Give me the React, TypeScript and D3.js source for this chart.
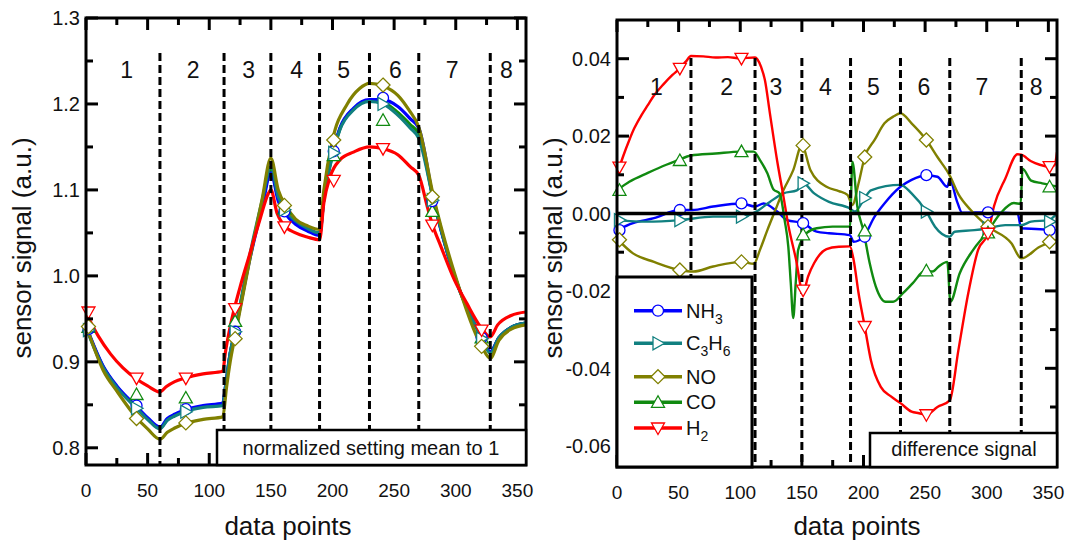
import React from 'react';
import * as d3 from 'd3';

type Pt = [number, number];

// ---------- axes / ticks ----------
const X_TICKS_MAJOR = [0, 50, 100, 150, 200, 250, 300, 350];
const X_TICKS_MINOR = [25, 75, 125, 175, 225, 275, 325];
const NORM_TICKS_MAJOR = [0.8, 0.9, 1.0, 1.1, 1.2, 1.3];
const NORM_TICKS_MINOR = [0.85, 0.95, 1.05, 1.15, 1.25];
const DIFF_TICKS_MAJOR = [-0.06, -0.04, -0.02, 0, 0.02, 0.04];
const DIFF_TICKS_MINOR = [-0.05, -0.03, -0.01, 0.01, 0.03];

// ---------- sections ----------
const SECTION_BOUNDS = [60, 112, 150, 189.5, 230, 270, 328];
const SECTION_LABELS = ['1', '2', '3', '4', '5', '6', '7', '8'];
const SECTION_LABEL_POS_NORM = [33, 87, 132, 171, 209, 251, 297, 341];
const SECTION_LABEL_POS_DIFF = [32, 89, 129, 169, 208, 249, 296, 340];

// ---------- normalized signals (left) ----------
const NORM_NH3: Pt[] = [[0,0.942],[14,0.895],[25,0.872],[41,0.848],[50,0.835],[60,0.824],[66,0.834],[72,0.839],[80,0.844],[95,0.849],[111,0.852],[113,0.87],[117,0.91],[121,0.935],[133,1.02],[143,1.08],[150,1.12],[156,1.087],[162,1.072],[170,1.06],[180,1.052],[189.5,1.047],[193,1.09],[200,1.143],[206,1.172],[217,1.195],[230,1.205],[241,1.205],[253,1.197],[263,1.183],[270,1.172],[282,1.088],[299,1.0],[321,0.929],[328,0.912],[335,0.928],[345,0.94],[357,0.945]];
const NORM_C3H6: Pt[] = [[0,0.94],[14,0.893],[25,0.87],[41,0.846],[50,0.833],[60,0.822],[66,0.832],[72,0.837],[80,0.842],[95,0.847],[111,0.849],[113,0.868],[117,0.91],[121,0.937],[133,1.025],[143,1.088],[150,1.127],[156,1.092],[162,1.076],[170,1.064],[180,1.055],[189.5,1.05],[193,1.09],[200,1.14],[206,1.17],[217,1.193],[230,1.203],[241,1.2],[253,1.187],[263,1.172],[270,1.16],[282,1.088],[299,1.0],[321,0.928],[328,0.91],[335,0.928],[345,0.94],[357,0.945]];
const NORM_NO: Pt[] = [[0,0.943],[14,0.89],[25,0.866],[41,0.835],[50,0.822],[60,0.81],[66,0.818],[72,0.823],[80,0.828],[95,0.833],[111,0.836],[114,0.87],[117,0.9],[121,0.93],[133,1.02],[143,1.09],[150,1.137],[156,1.1],[162,1.082],[170,1.066],[180,1.058],[189.5,1.054],[193,1.1],[200,1.158],[212,1.2],[222,1.218],[230,1.224],[241,1.221],[253,1.21],[262,1.193],[270,1.173],[282,1.092],[299,1.003],[321,0.918],[328,0.904],[335,0.925],[345,0.938],[357,0.943]];
const NORM_CO: Pt[] = [[0,0.941],[14,0.894],[25,0.871],[41,0.847],[50,0.834],[60,0.823],[66,0.833],[72,0.838],[80,0.843],[95,0.848],[111,0.85],[113,0.869],[117,0.91],[121,0.936],[133,1.022],[143,1.084],[150,1.123],[156,1.09],[162,1.074],[170,1.062],[180,1.053],[189.5,1.048],[193,1.09],[200,1.141],[206,1.171],[217,1.194],[230,1.204],[241,1.202],[253,1.19],[263,1.176],[270,1.165],[282,1.088],[299,1.0],[321,0.928],[328,0.911],[335,0.928],[345,0.94],[357,0.945]];
const NORM_H2: Pt[] = [[0,0.957],[10,0.93],[20,0.909],[30,0.893],[41,0.88],[50,0.872],[60,0.865],[65,0.871],[72,0.877],[80,0.881],[95,0.886],[111,0.889],[113,0.91],[117,0.941],[125,0.987],[133,1.026],[141,1.065],[148,1.096],[150,1.1],[155,1.073],[160,1.06],[170,1.05],[180,1.045],[189.5,1.042],[193,1.085],[198,1.115],[206,1.135],[217,1.144],[230,1.15],[241,1.148],[253,1.141],[263,1.127],[270,1.117],[277,1.08],[281,1.06],[288,1.034],[299,0.995],[309,0.968],[320,0.941],[328,0.929],[334,0.943],[345,0.954],[357,0.958]];

const NORM_MARK_X = [2, 41, 81, 121, 161, 201, 241, 281, 321];
const NORM_MARK_NH3 = [0.938, 0.849, 0.845, 0.935, 1.075, 1.145, 1.207, 1.087, 0.928];
const NORM_MARK_C3H6 = [0.937, 0.846, 0.842, 0.935, 1.077, 1.143, 1.2, 1.088, 0.927];
const NORM_MARK_NO = [0.941, 0.834, 0.829, 0.927, 1.082, 1.158, 1.222, 1.092, 0.918];
const NORM_MARK_CO = [0.94, 0.862, 0.858, 0.947, 1.078, 1.14, 1.181, 1.075, 0.928];
const NORM_MARK_H2 = [0.958, 0.881, 0.881, 0.962, 1.057, 1.111, 1.148, 1.059, 0.937];

// ---------- difference signals (right) ----------
const DIFF_NH3: Pt[] = [[0,-0.0043],[13,-0.0025],[30,-0.0012],[51,0.0009],[61,0.0009],[78,0.0018],[101,0.0026],[112,0.0018],[119,0.0026],[130,0.0005],[138,-0.0017],[151,-0.0025],[162,-0.0047],[172,-0.0051],[189,-0.0056],[192,-0.0073],[200,-0.006],[209,-0.0008],[217,0.0026],[230,0.0069],[239,0.0087],[251,0.0099],[260,0.0095],[268,0.0069],[270,0.0087],[276,0.003],[280,0.0002],[301,0.0003],[325,0.0],[328,-0.0038],[340,-0.004],[357,-0.0043]];
const DIFF_C3H6: Pt[] = [[0,-0.0017],[24,-0.0021],[51,-0.0017],[78,-0.0008],[101,-0.0008],[113,0.0005],[124,0.003],[135,0.0052],[146,0.006],[151,0.0078],[160,0.0052],[172,0.003],[189,0.0013],[193,0.0005],[201,0.004],[206,0.006],[230,0.0074],[239,0.0052],[251,0.0005],[258,-0.0034],[270,-0.006],[274,-0.0047],[290,-0.0043],[301,-0.0038],[315,-0.003],[328,-0.003],[336,-0.0021],[350,-0.0017],[357,0.0]];
const DIFF_NO: Pt[] = [[0,-0.0065],[13,-0.0103],[30,-0.0125],[51,-0.0146],[62,-0.015],[78,-0.0137],[101,-0.0125],[111,-0.013],[116,-0.0094],[122,-0.0043],[128,0.0005],[135,0.006],[143,0.0112],[150,0.0176],[157,0.0112],[170,0.0069],[180,0.0058],[187,0.0048],[191,0.0022],[196,0.0078],[201,0.0146],[209,0.019],[217,0.0233],[225,0.0252],[230,0.0259],[239,0.0233],[251,0.019],[260,0.0146],[270,0.0098],[277,0.005],[287,0.0009],[301,-0.0034],[320,-0.0077],[328,-0.0116],[343,-0.0086],[357,-0.0068]];
const DIFF_CO: Pt[] = [[0,0.006],[10,0.0082],[25,0.0105],[40,0.0126],[49,0.0137],[60,0.015],[80,0.0155],[100,0.016],[111,0.016],[116,0.0138],[122,0.0104],[127,0.0062],[132,0.0052],[136,-0.0017],[139,-0.0086],[141,-0.018],[143,-0.027],[145,-0.018],[147,-0.0094],[154,-0.005],[162,-0.0038],[175,-0.0034],[189,-0.0034],[191,0.0134],[195,0.0018],[200,-0.0045],[205,-0.0128],[210,-0.0189],[218,-0.0228],[224,-0.0228],[232,-0.0206],[240,-0.018],[250,-0.0148],[256,-0.015],[261,-0.0137],[268,-0.0125],[270.5,-0.0228],[278,-0.0155],[289,-0.0094],[300,-0.005],[311,0],[322,0.0027],[327.5,0.0025],[329,0.0116],[336,0.0085],[345,0.0078],[357,0.007]];
const DIFF_H2: Pt[] = [[0,0.010],[5,0.0148],[10,0.019],[14,0.022],[20,0.0255],[25,0.028],[30,0.0305],[38,0.0335],[45,0.0358],[51,0.0375],[56,0.0393],[60,0.0407],[70,0.0406],[80,0.0403],[90,0.0404],[100,0.0401],[112,0.0403],[114,0.0398],[117,0.0378],[120,0.0345],[124,0.026],[130,0.0135],[135,0.0045],[139,-0.003],[145,-0.0115],[151,-0.0205],[155,-0.0163],[160,-0.0128],[170,-0.0092],[180,-0.0086],[189,-0.0085],[192,-0.012],[196,-0.0206],[201,-0.0292],[206,-0.0379],[214,-0.0448],[222,-0.0472],[230,-0.049],[239,-0.0512],[245,-0.0516],[251,-0.052],[260,-0.05],[270,-0.0483],[277,-0.0353],[285,-0.0206],[293,-0.0094],[301,-0.0051],[306,0.002],[315,0.009],[325,0.0153],[328,0.0152],[336,0.0135],[343,0.0126],[351,0.0121],[355,0.0125],[357,0.0158]];

const DIFF_MARK_X = [2, 51, 101, 151, 201, 251, 301, 351];
const DIFF_MARK_NH3 = [-0.0043, 0.0009, 0.0026, -0.0025, -0.006, 0.0099, 0.0003, -0.0043];
const DIFF_MARK_C3H6 = [-0.0017, -0.0017, -0.0008, 0.0078, 0.004, 0.0005, -0.0038, -0.0021];
const DIFF_MARK_NO = [-0.0068, -0.0146, -0.0125, 0.0176, 0.0146, 0.019, -0.0034, -0.0073];
const DIFF_MARK_CO = [0.006, 0.0137, 0.016, -0.0055, -0.0045, -0.0148, -0.005, 0.0069];
const DIFF_MARK_H2 = [0.012, 0.0375, 0.0401, -0.0198, -0.0292, -0.052, -0.0051, 0.0121];

// ---------- series styles ----------
const SERIES_KEYS = ['NH3', 'C3H6', 'NO', 'CO', 'H2'];
const SERIES_COLORS: Record<string, string> = { NH3: '#0000ff', C3H6: '#118080', NO: '#808000', CO: '#108a10', H2: '#ff0000' };
const SERIES_SHAPES: Record<string, string> = { NH3: 'circle', C3H6: 'right', NO: 'diamond', CO: 'up', H2: 'down' };
const SERIES_LABELS: Record<string, [string, boolean][]> = {
  NH3: [['NH', false], ['3', true]],
  C3H6: [['C', false], ['3', true], ['H', false], ['6', true]],
  NO: [['NO', false]],
  CO: [['CO', false]],
  H2: [['H', false], ['2', true]],
};

const NORM_LINES: Record<string, Pt[]> = { NH3: NORM_NH3, C3H6: NORM_C3H6, NO: NORM_NO, CO: NORM_CO, H2: NORM_H2 };
const NORM_MARKS: Record<string, number[]> = { NH3: NORM_MARK_NH3, C3H6: NORM_MARK_C3H6, NO: NORM_MARK_NO, CO: NORM_MARK_CO, H2: NORM_MARK_H2 };
const DIFF_LINES: Record<string, Pt[]> = { NH3: DIFF_NH3, C3H6: DIFF_C3H6, NO: DIFF_NO, CO: DIFF_CO, H2: DIFF_H2 };
const DIFF_MARKS: Record<string, number[]> = { NH3: DIFF_MARK_NH3, C3H6: DIFF_MARK_C3H6, NO: DIFF_MARK_NO, CO: DIFF_MARK_CO, H2: DIFF_MARK_H2 };

const FONT = "'Liberation Sans', Arial, Helvetica, sans-serif";

function markerD(shape: string): string {
  switch (shape) {
    case 'circle': return 'M5.5,0A5.5,5.5 0 1,1 -5.5,0A5.5,5.5 0 1,1 5.5,0Z';
    case 'diamond': return 'M0,-7L7,0L0,7L-7,0Z';
    case 'up': return 'M0,-6.5L6.5,5L-6.5,5Z';
    case 'down': return 'M0,6.5L6.5,-5L-6.5,-5Z';
    case 'right': return 'M6.5,0L-5,-6.5L-5,6.5Z';
  }
  return '';
}

type PanelProps = {
  left: number; right: number; top: number; bottom: number;
  yDomain: [number, number];
  yMajor: number[]; yMinor: number[]; fmt: (v: number) => string;
  lines: Record<string, Pt[]>; marksX: number[]; marks: Record<string, number[]>;
  drawOrder: string[];
  labelPos: number[]; labelY: number; dashTop: number;
  zero: boolean; lineWidth: number;
};

function Panel(p: PanelProps) {
  const x = d3.scaleLinear().domain([0, 357]).range([p.left, p.right]);
  const y = d3.scaleLinear().domain(p.yDomain).range([p.bottom, p.top]);
  const line = d3.line<Pt>().x(d => x(d[0])).y(d => y(d[1])).curve(d3.curveMonotoneX);
  const MAJ = 12, MIN = 7;
  return (
    <g>
      <defs>
        <clipPath id={`clip${p.left}`}>
          <rect x={p.left} y={p.top} width={p.right - p.left} height={p.bottom - p.top} />
        </clipPath>
      </defs>
      <g clipPath={`url(#clip${p.left})`}>
        {p.drawOrder.map(k => (
          <path key={k} d={line(p.lines[k]) || ''} fill="none" stroke={SERIES_COLORS[k]}
            strokeWidth={p.lineWidth} strokeLinejoin="round" strokeLinecap="round" />
        ))}
      </g>
      {SECTION_BOUNDS.map(b => (
        <line key={b} x1={x(b)} x2={x(b)} y1={p.dashTop} y2={p.bottom} stroke="#000"
          strokeWidth={3} strokeDasharray="8 4" />
      ))}
      {p.drawOrder.map(k => (
        <g key={k}>
          {p.marksX.map((mx, i) => (
            <path key={i} d={markerD(SERIES_SHAPES[k])}
              transform={`translate(${x(mx)},${y(p.marks[k][i])})`}
              fill="#fff" stroke={SERIES_COLORS[k]} strokeWidth={1.3} />
          ))}
        </g>
      ))}
      {p.zero && (
        <line x1={p.left} x2={p.right} y1={y(0)} y2={y(0)} stroke="#000" strokeWidth={3.5} />
      )}
      {SECTION_LABELS.map((s, i) => (
        <text key={s} x={x(p.labelPos[i])} y={p.labelY} fontSize={23} textAnchor="middle"
          fontFamily={FONT} fill="#111">{s}</text>
      ))}
      {/* ticks */}
      {X_TICKS_MAJOR.concat(X_TICKS_MINOR).map(t => {
        const len = X_TICKS_MAJOR.includes(t) ? MAJ : MIN;
        return (
          <g key={'x' + t}>
            <line x1={x(t)} x2={x(t)} y1={p.top} y2={p.top + len} stroke="#000" strokeWidth={3} />
            <line x1={x(t)} x2={x(t)} y1={p.bottom} y2={p.bottom - len} stroke="#000" strokeWidth={3} />
          </g>
        );
      })}
      {p.yMajor.concat(p.yMinor).map(t => {
        const len = p.yMajor.includes(t) ? MAJ : MIN;
        return (
          <g key={'y' + t}>
            <line x1={p.left} x2={p.left + len} y1={y(t)} y2={y(t)} stroke="#000" strokeWidth={3} />
            <line x1={p.right} x2={p.right - len} y1={y(t)} y2={y(t)} stroke="#000" strokeWidth={3} />
          </g>
        );
      })}
      <rect x={p.left} y={p.top} width={p.right - p.left} height={p.bottom - p.top}
        fill="none" stroke="#000" strokeWidth={3} />
      {X_TICKS_MAJOR.map(t => (
        <text key={'xl' + t} x={x(t)} y={p.bottom + 32} fontSize={19} textAnchor="middle"
          fontFamily={FONT} fill="#111">{t}</text>
      ))}
      {p.yMajor.map(t => (
        <text key={'yl' + t} x={p.left - 6} y={y(t)} dy="0.36em" fontSize={20} textAnchor="end"
          fontFamily={FONT} fill="#111">{p.fmt(t)}</text>
      ))}
    </g>
  );
}

function Label({ parts, x, y }: { parts: [string, boolean][]; x: number; y: number }) {
  return (
    <text x={x} y={y} fontSize={20} fontFamily={FONT} fill="#111">
      {parts.map(([s, sub], i) => (
        <tspan key={i} fontSize={sub ? 14 : 20} dy={sub ? 6 : (i > 0 && parts[i - 1][1] ? -6 : 0)}>{s}</tspan>
      ))}
    </text>
  );
}

const LEGEND_ROWS_Y = [310.7, 343.3, 376.7, 402.3, 428];

export default function App() {
  const L = { left: 86, right: 526, top: 18, bottom: 465 };
  const R = { left: 617, right: 1057, top: 20, bottom: 467 };
  const fmtNorm = (v: number) => v.toFixed(1);
  const fmtDiff = (v: number) => (Math.abs(v) < 1e-9 ? '0.00' : v.toFixed(2));
  return (
    <svg width={1071} height={540} style={{ position: 'absolute', left: 0, top: 0 }}>
      <rect x={0} y={0} width={1071} height={540} fill="#fff" />
      <Panel {...L} yDomain={[0.78, 1.3]} yMajor={NORM_TICKS_MAJOR} yMinor={NORM_TICKS_MINOR}
        fmt={fmtNorm} lines={NORM_LINES} marksX={NORM_MARK_X} marks={NORM_MARKS}
        drawOrder={['CO', 'NH3', 'C3H6', 'NO', 'H2']}
        labelPos={SECTION_LABEL_POS_NORM} labelY={78} dashTop={53} zero={false} lineWidth={3.2} />
      <Panel {...R} yDomain={[-0.0655, 0.05]} yMajor={DIFF_TICKS_MAJOR} yMinor={DIFF_TICKS_MINOR}
        fmt={fmtDiff} lines={DIFF_LINES} marksX={DIFF_MARK_X} marks={DIFF_MARKS}
        drawOrder={['NH3', 'C3H6', 'NO', 'CO', 'H2']}
        labelPos={SECTION_LABEL_POS_DIFF} labelY={95} dashTop={58} zero={true} lineWidth={2.4} />

      {/* annotation boxes */}
      <rect x={217} y={430} width={526 - 217} height={465 - 430} fill="#fff" stroke="#000" strokeWidth={2.5} />
      <text x={371} y={455} fontSize={20} textAnchor="middle" fontFamily={FONT} fill="#111">normalized setting mean to 1</text>
      <rect x={870} y={433} width={1057 - 870} height={467 - 433} fill="#fff" stroke="#000" strokeWidth={2.5} />
      <text x={964} y={456} fontSize={20} textAnchor="middle" fontFamily={FONT} fill="#111">difference signal</text>

      {/* legend */}
      <rect x={617} y={277} width={752 - 617} height={467 - 277} fill="#fff" stroke="#000" strokeWidth={3} />
      {SERIES_KEYS.map((k, i) => (
        <g key={k}>
          <line x1={634} x2={682} y1={LEGEND_ROWS_Y[i]} y2={LEGEND_ROWS_Y[i]} stroke={SERIES_COLORS[k]} strokeWidth={3.5} />
          <path d={markerD(SERIES_SHAPES[k])} transform={`translate(658,${LEGEND_ROWS_Y[i]})`}
            fill="#fff" stroke={SERIES_COLORS[k]} strokeWidth={1.3} />
          <Label parts={SERIES_LABELS[k]} x={686} y={LEGEND_ROWS_Y[i] + 7} />
        </g>
      ))}

      {/* axis titles */}
      <text x={288} y={535} fontSize={26} textAnchor="middle" fontFamily={FONT} fill="#111">data points</text>
      <text x={857} y={535} fontSize={26} textAnchor="middle" fontFamily={FONT} fill="#111">data points</text>
      <text transform="translate(22,248) rotate(-90)" dy="0.35em" fontSize={26} textAnchor="middle"
        fontFamily={FONT} fill="#111">sensor signal (a.u.)</text>
      <text transform="translate(553,248) rotate(-90)" dy="0.35em" fontSize={26} textAnchor="middle"
        fontFamily={FONT} fill="#111">sensor signal (a.u.)</text>
    </svg>
  );
}
